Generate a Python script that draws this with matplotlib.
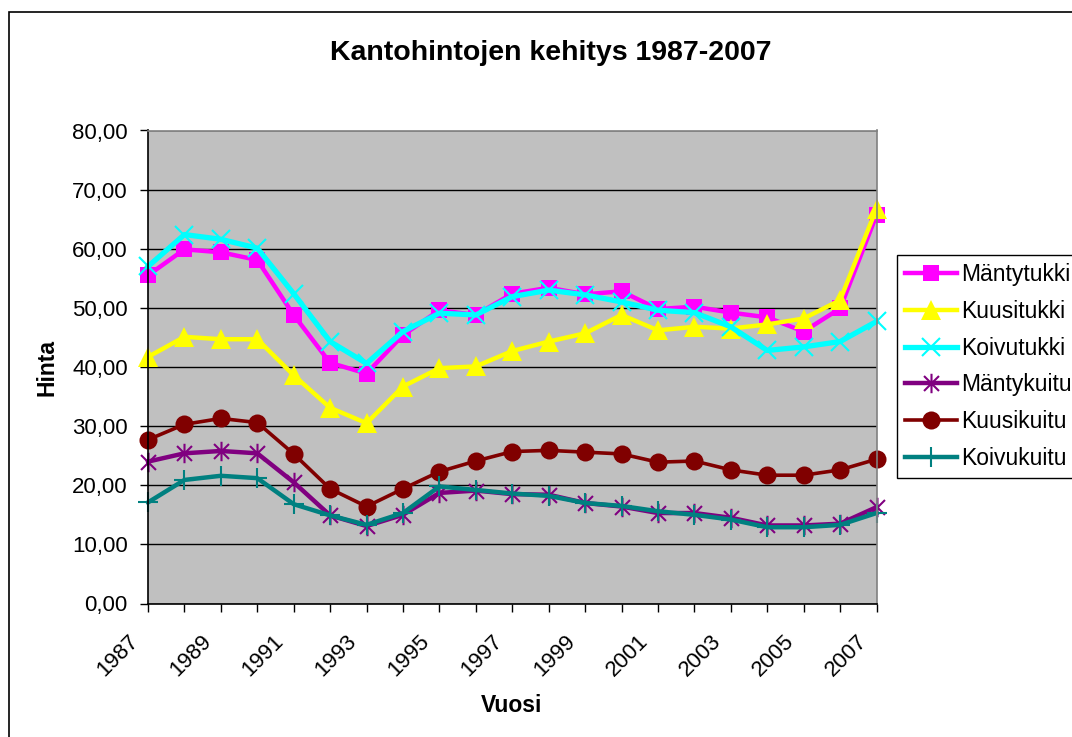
import matplotlib
matplotlib.use("Agg")
import matplotlib.pyplot as plt
from matplotlib.path import Path
from matplotlib.patches import Rectangle
from matplotlib.ticker import FuncFormatter, MultipleLocator, NullFormatter
from matplotlib.transforms import ScaledTranslation

plt.rcParams['font.family'] = ['Liberation Sans', 'DejaVu Sans']

years = list(range(1987, 2008))
mantytukki = [55.5, 59.9, 59.4, 58.1, 48.8, 40.7, 38.9, 45.4, 49.6, 48.8, 52.4,
              53.4, 52.3, 52.8, 49.8, 50.2, 49.2, 48.4, 46.0, 49.9, 65.7]
kuusitukki = [41.7, 45.1, 44.7, 44.7, 38.6, 33.1, 30.5, 36.7, 39.8, 40.1, 42.7,
              44.3, 45.7, 48.8, 46.2, 46.8, 46.5, 47.2, 48.2, 51.3, 66.8]
koivutukki = [57.0, 62.4, 61.6, 60.1, 52.4, 44.3, 40.6, 46.0, 49.1, 48.8, 51.9,
              53.0, 52.2, 51.0, 49.6, 49.2, 46.8, 42.8, 43.4, 44.3, 47.7]
mantykuitu = [24.0, 25.4, 25.8, 25.4, 20.5, 14.9, 13.1, 15.0, 18.7, 19.1, 18.5,
              18.4, 17.0, 16.4, 15.3, 15.3, 14.5, 13.2, 13.2, 13.5, 16.3]
kuusikuitu = [27.7, 30.3, 31.3, 30.6, 25.3, 19.4, 16.4, 19.4, 22.3, 24.1, 25.7,
              25.9, 25.6, 25.3, 23.9, 24.1, 22.6, 21.7, 21.7, 22.6, 24.4]
koivukuitu = [17.1, 20.9, 21.6, 21.2, 16.8, 14.9, 13.3, 15.3, 19.8, 19.2, 18.6,
              18.2, 17.0, 16.5, 15.6, 15.0, 14.2, 12.9, 12.9, 13.3, 15.3]
year_labels = [str(y) for y in years[::2]]

names = ["Mäntytukki", "Kuusitukki", "Koivutukki", "Mäntykuitu", "Kuusikuitu", "Koivukuitu"]
series = [mantytukki, kuusitukki, koivutukki, mantykuitu, kuusikuitu, koivukuitu]
colors = ["#FF00FF", "#FFFF00", "#00FFFF", "#800080", "#800000", "#008080"]

# Excel-like asterisk marker: X plus vertical bar
ast = Path([(-1, -1), (1, 1), (-1, 1), (1, -1), (0, -1.3), (0, 1.3)],
           [Path.MOVETO, Path.LINETO, Path.MOVETO, Path.LINETO, Path.MOVETO, Path.LINETO])

styles = [
    dict(marker='s', ms=12, lw=3.2, mew=0),
    dict(marker='^', ms=14, lw=3.2, mew=0),
    dict(marker='x', ms=13, lw=3.8, mew=1.5),
    dict(marker=ast, ms=14, lw=3.2, mew=1.5),
    dict(marker='o', ms=13, lw=2.6, mew=0),
    dict(marker='+', ms=15, lw=3.2, mew=1.5),
]

fig = plt.figure(figsize=(10.72, 7.37), dpi=100)
ax = fig.add_axes([148/1072, 1-603.5/737, (876.5-148)/1072, (603.5-130.5)/737])
ax.set_facecolor("#C0C0C0")

for name, vals, c, st in zip(names, series, colors, styles):
    ax.plot(years, vals, color=c, label=name, marker=st['marker'], markersize=st['ms'],
            linewidth=st['lw'], markeredgewidth=st['mew'], markerfacecolor=c,
            markeredgecolor=c, clip_on=False, solid_joinstyle='round')

ax.set_xlim(1987, 2007)
ax.set_ylim(0, 80)
ax.yaxis.set_major_locator(MultipleLocator(10))
ax.yaxis.set_major_formatter(FuncFormatter(lambda v, p: f"{v:.2f}".replace('.', ',')))
ax.grid(axis='y', color='black', linewidth=1)
ax.set_axisbelow(True)

ax.set_xticks(years)
ax.xaxis.set_major_formatter(NullFormatter())
lab_tr = ax.get_xaxis_transform() + ScaledTranslation(-13/100, -35/100, fig.dpi_scale_trans)
for y, lab in zip(years[::2], year_labels):
    ax.text(y, 0, lab, rotation=45, ha='right', va='center', rotation_mode='anchor',
            fontsize=16, transform=lab_tr, clip_on=False)
ax.tick_params(axis='x', direction='out', length=5.5, width=1, color='black')
ax.tick_params(axis='y', direction='out', length=6, width=1, labelsize=16, pad=8.5)

for s in ['top', 'right']:
    ax.spines[s].set_color('#808080')
    ax.spines[s].set_linewidth(1.2)
for s in ['left', 'bottom']:
    ax.spines[s].set_color('black')
    ax.spines[s].set_linewidth(1.2)

fig.text(551/1072, 1-53/737, "Kantohintojen kehitys 1987-2007", ha='center', va='center',
         fontsize=20.5, fontweight='bold')
fig.text(512/1072, 1-705/737, "Vuosi", ha='center', va='center', fontsize=16.5, fontweight='bold')
fig.text(47/1072, 1-368/737, "Hinta", ha='center', va='center', fontsize=16.5,
         fontweight='bold', rotation=90)

leg = fig.legend(loc='upper left', bbox_to_anchor=(896.5/1072, 1-255/737), borderaxespad=0,
                 fontsize=16.5, frameon=True, fancybox=False, edgecolor='black',
                 handlelength=2.3, handletextpad=0.17, labelspacing=0.6, borderpad=0.35,
                 framealpha=1)
leg.get_frame().set_linewidth(1.0)

fig.patches.append(Rectangle((9/1072, -0.05), 1.2, 1-12/737+0.05, transform=fig.transFigure,
                             fill=False, edgecolor='black', linewidth=1.2))

fig.savefig("out.png", dpi=100)
